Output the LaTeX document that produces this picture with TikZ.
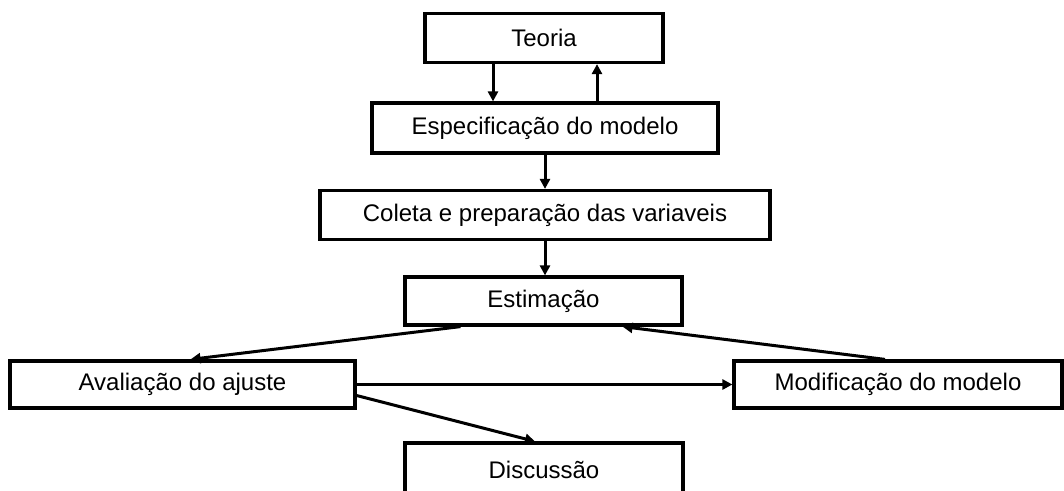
\documentclass[tikz,border=0pt]{standalone}
\usepackage{fontspec}
\setmainfont{Liberation Sans}
\usepackage{tikz}
\usetikzlibrary{positioning,arrows.meta}

\begin{document}
\begin{tikzpicture}[x=1pt,y=-1pt,
    etapa/.style={draw,line width=3.2pt,inner sep=0pt,font=\fontsize{24}{28}\selectfont},
    seta/.style={line width=3pt,-{Triangle[length=10pt,width=10pt]}}]
  \useasboundingbox (0,0) rectangle (1064,490);
  \clip (0,0) rectangle (1064,490);
  % caixas
  \node[etapa,minimum width=238pt,minimum height=49pt](teoria) at (544,38){Teoria};
  \node[etapa,minimum width=346pt,minimum height=50pt](espec) at (545,128){Especificação do modelo};
  \node[etapa,minimum width=450pt,minimum height=49pt](coleta) at (545,215){Coleta e preparação das variaveis};
  \node[etapa,minimum width=277pt,minimum height=48pt](estim) at (543.5,301){Estimação};
  \node[etapa,minimum width=345pt,minimum height=47pt](aval) at (182.5,384.5){Avaliação do ajuste};
  \node[etapa,minimum width=328pt,minimum height=47pt](modif) at (898,384.5){Modificação do modelo};
  \node[etapa,minimum width=278pt,minimum height=54pt](disc) at (544,470){Discussão};
  % setas
  \draw[seta] ([xshift=-51pt]teoria.south) -- ([xshift=-51pt]teoria.south |- espec.north);
  \draw[seta] ([xshift=53pt]teoria.south |- espec.north) -- ([xshift=53pt]teoria.south);
  \draw[seta] (espec.south) -- (espec.south |- coleta.north);
  \draw[seta] (coleta.south) -- (coleta.south |- estim.north);
  \draw[seta] ([xshift=-83pt]estim.south) -- ([xshift=8pt]aval.north);
  \draw[seta] ([xshift=-13pt]modif.north) -- ([xshift=79pt]estim.south);
  \draw[seta] (aval.east) -- (modif.west);
  \draw[seta] ([yshift=-11pt]aval.east) -- ([xshift=-9pt]disc.north);
\end{tikzpicture}
\end{document}
